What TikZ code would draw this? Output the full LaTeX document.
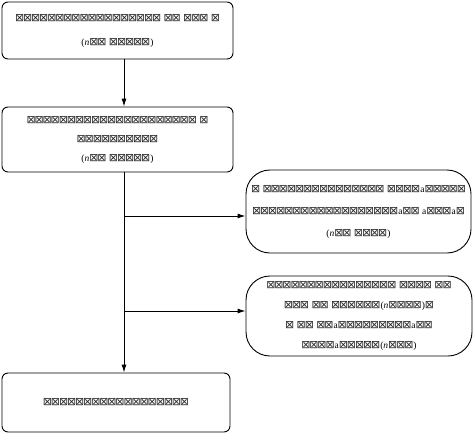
\documentclass[tikz,border=0pt]{standalone}
\usepackage{fontspec}
\setmainfont{Liberation Serif}
\newfontfamily\tofufont[Scale=1.15,LetterSpace=-10]{DejaVu Sans}
\usetikzlibrary{arrows.meta}
\newcommand{\tb}[1]{{\tofufont\color{black!85}#1}}
\tikzset{
  sqbox/.style={draw, line width=0.9pt, rounded corners=6pt, align=center, inner sep=0pt, font=\fontsize{9.5}{19}\selectfont},
  rdbox/.style={draw, line width=0.9pt, rounded corners=24pt, align=center, inner sep=0pt, font=\fontsize{9.5}{20}\selectfont},
  conn/.style={line width=0.9pt, -{Latex[length=8pt,width=5pt]}},
  plain/.style={line width=0.9pt}
}
\begin{document}
\begin{tikzpicture}[x=1pt,y=-1pt]
\useasboundingbox (0,0) rectangle (474,434);
\node[sqbox, minimum width=231pt, minimum height=57pt, font=\fontsize{9.5}{24}\selectfont] (b1) at (117.5,30.5)
  {\tb{⊠⊠⊠⊠⊠⊠⊠⊠⊠⊠⊠⊠⊠⊠⊠⊠⊠⊠ ⊠⊠ ⊠⊠⊠ ⊠}\\(\textit{n}\tb{⊠⊠ ⊠⊠⊠⊠⊠})};
\node[sqbox, minimum width=231pt, minimum height=65pt] (b2) at (117.5,139.5)
  {\tb{⊠⊠⊠⊠⊠⊠⊠⊠⊠⊠⊠⊠⊠⊠⊠⊠⊠⊠⊠⊠⊠ ⊠}\\\tb{⊠⊠⊠⊠⊠⊠⊠⊠⊠⊠}\\(\textit{n}\tb{⊠⊠ ⊠⊠⊠⊠⊠})};
\node[rdbox, minimum width=225pt, minimum height=83pt, font=\fontsize{9.5}{22}\selectfont] (b3) at (358.5,211.5)
  {\tb{⊠ ⊠⊠⊠⊠⊠⊠⊠⊠⊠⊠⊠⊠⊠⊠⊠ ⊠⊠⊠⊠}a\tb{⊠⊠⊠⊠⊠}\\\tb{⊠⊠⊠⊠⊠⊠⊠⊠⊠⊠⊠⊠⊠⊠⊠⊠⊠⊠}a\tb{⊠⊠ }a\tb{⊠⊠⊠}a\tb{⊠}\\(\textit{n}\tb{⊠⊠ ⊠⊠⊠⊠})};
\node[rdbox, minimum width=226pt, minimum height=80pt] (b4) at (359,316)
  {\tb{⊠⊠⊠⊠⊠⊠⊠⊠⊠⊠⊠⊠⊠⊠⊠⊠ ⊠⊠⊠⊠ ⊠⊠}\\\tb{⊠⊠⊠ ⊠⊠ ⊠⊠⊠⊠⊠⊠}(\textit{n}\tb{⊠⊠⊠⊠})\tb{⊠}\\\tb{⊠ ⊠⊠ ⊠⊠}a\tb{⊠⊠⊠⊠⊠⊠⊠⊠⊠}a\tb{⊠⊠}\\\tb{⊠⊠⊠⊠}a\tb{⊠⊠⊠⊠⊠}(\textit{n}\tb{⊠⊠⊠})};
\node[sqbox, minimum width=228pt, minimum height=59pt] (b5) at (116,402.5)
  {\tb{⊠⊠⊠⊠⊠⊠⊠⊠⊠⊠⊠⊠⊠⊠⊠⊠⊠⊠}};
\coordinate (sp) at (124,0);
\coordinate (j1) at (124,216);
\coordinate (j2) at (124,311);
\draw[conn] (b1.south -| sp) -- (b2.north -| sp);
\draw[plain] (b2.south -| sp) -- (j1);
\draw[conn] (j1) -- (j1 -| b3.west);
\draw[plain] (j1) -- (j2);
\draw[conn] (j2) -- (j2 -| b4.west);
\draw[conn] (j2) -- (b5.north -| sp);
\end{tikzpicture}
\end{document}
